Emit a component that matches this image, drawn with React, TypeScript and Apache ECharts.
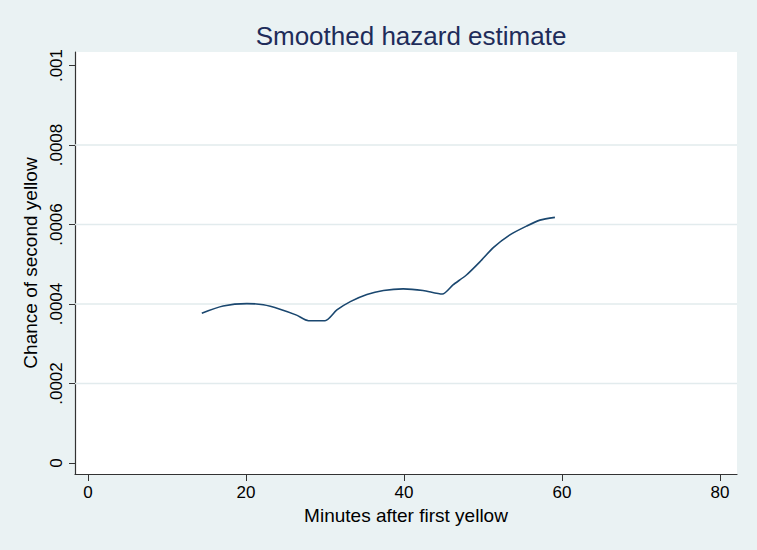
import React, { useEffect, useRef } from "react";
import * as echarts from "echarts";

const title = "Smoothed hazard estimate";
const xTitle = "Minutes after first yellow";
const yTitle = "Chance of second yellow";

const xRange = [-1.65, 82.15];
const xTicks = [0, 20, 40, 60, 80];
const yTicks = [0, 0.0002, 0.0004, 0.0006, 0.0008, 0.001];
const yGrid = [0.0002, 0.0004, 0.0006, 0.0008];

const minutes = [14.4, 17.1, 20.1, 22.2, 24.3, 26.4, 27.9, 30.0, 31.5, 33.2, 35.3, 37.4, 39.9, 42.4, 44.85, 46.2, 47.9, 49.6, 51.3, 53.4, 55.5, 57.2, 59.1];
const hazard = [0.000377, 0.000395, 0.000401, 0.000398, 0.000387, 0.000372, 0.000358, 0.000358, 0.000385, 0.000406, 0.000424, 0.000434, 0.000438, 0.000434, 0.000425, 0.000448, 0.000473, 0.000506, 0.000542, 0.000574, 0.000596, 0.000611, 0.000618];

function fmtY(v: number): string {
  if (v === 0) return "0";
  return String(Number(v.toFixed(6))).replace(/^0\./, ".");
}

export default function App() {
  const ref = useRef<HTMLDivElement>(null);
  useEffect(() => {
    if (!ref.current) return;
    const chart = echarts.init(ref.current, null, { renderer: "svg" });
    const font = "Liberation Sans, Arial, Helvetica, sans-serif";
    const gridSeries = yGrid.map((v) => ({
      type: "line",
      data: [[xRange[0], v], [xRange[1], v]],
      showSymbol: false,
      silent: true,
      lineStyle: { color: "#e2ebed", width: 1.4 },
      z: 1,
    }));
    chart.setOption({
      animation: false,
      backgroundColor: "#eaf2f3",
      textStyle: { fontFamily: font },
      title: {
        text: title,
        left: 406,
        top: 18,
        textAlign: "center",
        textStyle: { fontSize: 26, fontWeight: "normal", color: "#1e2c5a", fontFamily: font },
      },
      grid: { left: 75, right: 20, top: 52, bottom: 76, show: true, backgroundColor: "#ffffff", borderWidth: 0 },
      xAxis: {
        type: "value",
        min: xRange[0],
        max: xRange[1],
        name: xTitle,
        nameLocation: "middle",
        nameGap: 32,
        nameTextStyle: { fontSize: 19, color: "#000", fontFamily: font },
        axisLine: { show: true, onZero: false, lineStyle: { color: "#333", width: 1.2 } },
        axisTick: { show: true, length: 7, customValues: xTicks, lineStyle: { color: "#333" } },
        axisLabel: { customValues: xTicks, fontSize: 17, color: "#000", margin: 10, fontFamily: font },
        splitLine: { show: false },
      },
      yAxis: {
        type: "value",
        min: -0.0000277,
        max: 0.001034,
        name: yTitle,
        nameLocation: "middle",
        nameGap: 34,
        nameRotate: 90,
        nameTextStyle: { fontSize: 19, color: "#000", fontFamily: font },
        axisLine: { show: true, onZero: false, lineStyle: { color: "#333", width: 1.2 } },
        axisTick: { show: true, length: 6, customValues: yTicks, lineStyle: { color: "#333" } },
        axisLabel: { customValues: yTicks, rotate: 90, fontSize: 17, color: "#000", margin: 10, fontFamily: font, formatter: (v: number) => fmtY(v) },
        splitLine: { show: false },
      },
      series: [
        ...gridSeries,
        {
          type: "line",
          data: minutes.map((m, i) => [m, hazard[i]]),
          smooth: 0.25,
          showSymbol: false,
          lineStyle: { color: "#1a476f", width: 1.6 },
          z: 3,
        },
      ],
    });
    return () => chart.dispose();
  }, []);
  return <div ref={ref} style={{ position: "fixed", left: 0, top: 0, width: 757, height: 550 }} />;
}
